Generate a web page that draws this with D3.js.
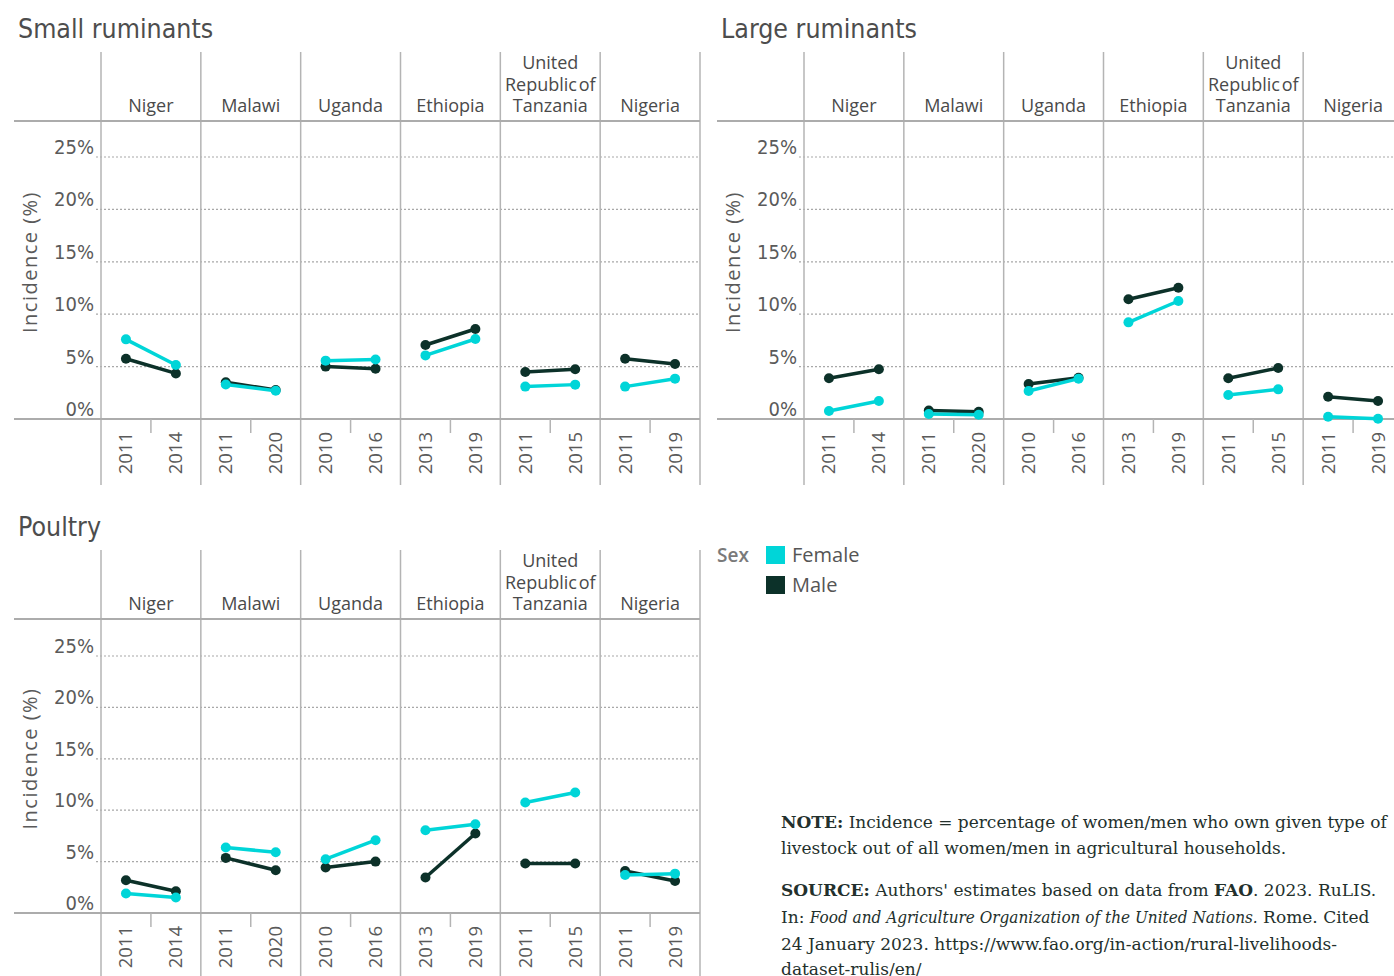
<!DOCTYPE html>
<html>
<head>
<meta charset="utf-8">
<script src="https://cdn.jsdelivr.net/npm/d3@7"></script>
<style>
  html, body { margin: 0; padding: 0; background: #fff; }
  svg { display: block; }
</style>
</head>
<body>
<svg id="chart" width="1394" height="976"></svg>
<script>

// --- data ---
var countries = ["Niger", "Malawi", "Uganda", "Ethiopia", "United Republic of Tanzania", "Nigeria"];
var countryLines = [["Niger"], ["Malawi"], ["Uganda"], ["Ethiopia"], ["United", "Republic of", "Tanzania"], ["Nigeria"]];
var surveyYears = [["2011", "2014"], ["2011", "2020"], ["2010", "2016"], ["2013", "2019"], ["2011", "2015"], ["2011", "2019"]];
var yTicks = [0, 5, 10, 15, 20, 25];

var smallFemale = [[7.6, 5.15], [3.3, 2.7], [5.57, 5.67], [6.07, 7.63], [3.09, 3.28], [3.09, 3.85]];
var smallMale   = [[5.75, 4.35], [3.5, 2.77], [5.0, 4.8], [7.06, 8.59], [4.48, 4.74], [5.75, 5.25]];

var largeFemale = [[0.76, 1.72], [0.48, 0.41], [2.67, 3.85], [9.22, 11.26], [2.29, 2.83], [0.22, 0.03]];
var largeMale   = [[3.88, 4.74], [0.8, 0.7], [3.34, 3.94], [11.42, 12.53], [3.88, 4.87], [2.13, 1.72]];

var poultryFemale = [[1.89, 1.5], [6.37, 5.91], [5.23, 7.08], [8.05, 8.64], [10.75, 11.72], [3.7, 3.83]];
var poultryMale   = [[3.18, 2.11], [5.36, 4.16], [4.42, 5.0], [3.45, 7.73], [4.81, 4.81], [4.09, 3.12]];

var sexLabels = ["Female", "Male"];
var sexColors = ["#00d5d8", "#0c3129"];

var noteLines = [
	[{t: "NOTE:", s: "b"}, {t: " Incidence = percentage of women/men who own given type of"}],
	[{t: "livestock out of all women/men in agricultural households."}],
	[],
	[{t: "SOURCE:", s: "b"}, {t: " Authors' estimates based on data from "}, {t: "FAO", s: "b"}, {t: ". 2023. RuLIS."}],
	[{t: "In: "}, {t: "Food and Agriculture Organization of the United Nations.", s: "i"}, {t: " Rome. Cited"}],
	[{t: "24 January 2023. https://www.fao.org/in-action/rural-livelihoods-"}],
	[{t: "dataset-rulis/en/"}]
];

// --- layout ---
var svg = d3.select("#chart");
var condensed = "'DejaVu Sans Condensed', 'DejaVu Sans', sans-serif";
var sans = "'Open Sans', 'Noto Sans', sans-serif";
var gray = "#5a5a5a";
var lineGray = "#b4b4b4";

var panels = [
	{title: "Small ruminants", female: smallFemale, male: smallMale, dx: 0, top: 52, header: 121, y25: 157, y0: 419},
	{title: "Large ruminants", female: largeFemale, male: largeMale, dx: 703, top: 52, header: 121, y25: 157, y0: 419},
	{title: "Poultry", female: poultryFemale, male: poultryMale, dx: 0, top: 550, header: 619, y25: 656, y0: 913}
];

panels.forEach(function(p)
{
	var g = svg.append("g").attr("transform", "translate(" + p.dx + ",0)");

	var x = d3.scaleBand().domain(countries).range([101, 700]);
	var xi = d3.scaleBand().domain([0, 1]).range([0, x.bandwidth()]);
	var y = d3.scaleLinear().domain([0, 25]).range([p.y0, p.y25]);
	var bottom = p.y0 + 66;

	// title
	g.append("text")
		.attr("x", 18).attr("y", p.top - 14)
		.attr("font-family", condensed).attr("font-size", 26.5)
		.attr("fill", "#4d4d4d")
		.text(p.title);

	// dotted gridlines
	g.selectAll(".grid").data(yTicks.filter(function(d) { return d > 0; }))
		.enter().append("line")
		.attr("x1", 96).attr("x2", 700)
		.attr("y1", function(d) { return y(d); }).attr("y2", function(d) { return y(d); })
		.attr("stroke", "#a8a8a8").attr("stroke-width", 1.2)
		.attr("stroke-dasharray", "2,2");

	// tick labels
	g.selectAll(".tick").data(yTicks)
		.enter().append("text")
		.attr("x", 94).attr("y", function(d) { return y(d) - 3; })
		.attr("text-anchor", "end")
		.attr("font-family", condensed).attr("font-size", 20)
		.attr("fill", gray)
		.text(function(d) { return d + "%"; });

	// y title
	g.append("text")
		.attr("transform", "translate(37," + ((p.y25 + p.y0) / 2 - 26) + ") rotate(-90)")
		.attr("text-anchor", "middle")
		.attr("font-family", sans).attr("font-size", 20)
		.attr("letter-spacing", 1.5)
		.attr("fill", gray)
		.text("Incidence (%)");

	// column separators
	var edges = countries.map(function(c) { return x(c); }).concat([x.range()[1]]);
	g.selectAll(".sep").data(edges)
		.enter().append("line")
		.attr("x1", function(d) { return d; }).attr("x2", function(d) { return d; })
		.attr("y1", p.top).attr("y2", bottom)
		.attr("stroke", lineGray).attr("stroke-width", 1.5);

	// header + baseline
	[p.header, p.y0].forEach(function(yy)
	{
		g.append("line")
			.attr("x1", 14).attr("x2", 700)
			.attr("y1", yy).attr("y2", yy)
			.attr("stroke", "#acacac").attr("stroke-width", 2);
	});

	// year sub ticks
	g.selectAll(".subtick").data(countries)
		.enter().append("line")
		.attr("x1", function(c) { return x(c) + x.bandwidth() / 2; })
		.attr("x2", function(c) { return x(c) + x.bandwidth() / 2; })
		.attr("y1", p.y0).attr("y2", p.y0 + 14)
		.attr("stroke", lineGray).attr("stroke-width", 1.5);

	// country headers
	countries.forEach(function(c, i)
	{
		var lines = countryLines[i];
		var t = g.append("text")
			.attr("text-anchor", "middle")
			.attr("font-family", sans).attr("font-size", 18)
			.attr("word-spacing", -3)
			.attr("fill", "#4a4a4a");
		lines.forEach(function(l, j)
		{
			t.append("tspan")
				.attr("x", x(c) + x.bandwidth() / 2)
				.attr("y", p.header - 9 - (lines.length - 1 - j) * 21.5)
				.text(l);
		});

		// years
		surveyYears[i].forEach(function(yr, k)
		{
			var cx = x(c) + xi(k) + xi.bandwidth() / 2;
			g.append("text")
				.attr("transform", "translate(" + (cx + 6.5) + "," + (p.y0 + 13) + ") rotate(-90)")
				.attr("text-anchor", "end")
				.attr("font-family", sans).attr("font-size", 18.5)
				.attr("fill", gray)
				.text(yr);
		});
	});

	// series: male first, female on top
	[p.male, p.female].forEach(function(series, si)
	{
		var color = si == 0 ? sexColors[1] : sexColors[0];
		countries.forEach(function(c, i)
		{
			var pts = series[i].map(function(v, k)
			{
				return [x(c) + xi(k) + xi.bandwidth() / 2, y(v)];
			});
			g.append("path")
				.attr("d", d3.line()(pts))
				.attr("fill", "none")
				.attr("stroke", color).attr("stroke-width", 3.5);
			g.selectAll(null).data(pts)
				.enter().append("circle")
				.attr("cx", function(d) { return d[0]; })
				.attr("cy", function(d) { return d[1]; })
				.attr("r", 5)
				.attr("fill", color);
		});
	});
});

// --- legend ---
var legend = svg.append("g");
legend.append("text")
	.attr("x", 717).attr("y", 562)
	.attr("font-family", sans).attr("font-size", 19).attr("font-weight", 600)
	.attr("fill", "#7a7a7a")
	.text("Sex");
sexLabels.forEach(function(s, i)
{
	legend.append("rect")
		.attr("x", 766).attr("y", 546 + i * 30)
		.attr("width", 19).attr("height", 18)
		.attr("fill", sexColors[i]);
	legend.append("text")
		.attr("x", 792).attr("y", 562 + i * 30)
		.attr("font-family", sans).attr("font-size", 20)
		.attr("fill", "#555")
		.text(s);
});

// --- note ---
var note = svg.append("text")
	.attr("font-family", "'DejaVu Serif', serif")
	.attr("font-size", 17)
	.attr("fill", "#23302c");
var lineY = [828, 854, 0, 896, 923, 950, 975];
noteLines.forEach(function(segs, i)
{
	if (!segs.length) return;
	segs.forEach(function(seg, j)
	{
		var ts = note.append("tspan").text(seg.t);
		if (j == 0) ts.attr("x", 781).attr("y", lineY[i]);
		if (seg.s == "b") ts.attr("font-weight", "bold");
		if (seg.s == "i") ts.attr("font-style", "italic").attr("font-family", "'DejaVu Serif Condensed', 'DejaVu Serif', serif");
	});
});

</script>
</body>
</html>
